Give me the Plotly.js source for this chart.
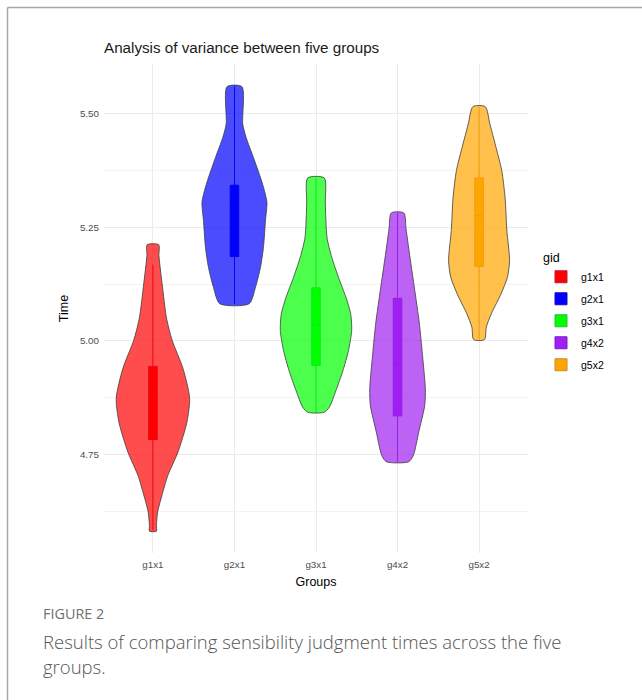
<!DOCTYPE html>
<html>
<head>
<meta charset="utf-8">
<script src="https://cdn.plot.ly/plotly-3.0.1.min.js"></script>
<style>
html,body{margin:0;padding:0;background:#fff;}
#chart{width:642px;height:700px;}
</style>
</head>
<body>
<div id="chart"></div>
<script>
// ---- data ----
const groups = ['g1x1', 'g2x1', 'g3x1', 'g4x2', 'g5x2'];

// violin density profiles (value levels top -> bottom, relative density)
const g1x1_levels  = [5.212, 5.188, 5.126, 5.049, 5.001, 4.940, 4.874, 4.821, 4.755, 4.704, 4.654, 4.623, 4.594, 4.581];
const g1x1_density = [5.8, 6.0, 9.2, 13.7, 19.3, 30.0, 36.7, 34.0, 25.0, 15.0, 8.3, 4.7, 3.5, 3.5];

const g2x1_levels  = [5.560, 5.478, 5.448, 5.404, 5.360, 5.331, 5.305, 5.265, 5.206, 5.162, 5.118, 5.082];
const g2x1_density = [7.5, 8.3, 11.7, 19.0, 26.0, 30.0, 32.5, 31.0, 29.0, 26.0, 21.0, 14.7];

const g3x1_levels  = [5.359, 5.302, 5.228, 5.184, 5.140, 5.096, 5.060, 5.023, 4.979, 4.935, 4.891, 4.854, 4.843];
const g3x1_density = [8.3, 9.3, 11.0, 15.8, 22.5, 30.0, 34.7, 35.7, 32.5, 27.0, 20.0, 13.3, 8.3];

const g4x2_levels  = [5.282, 5.247, 5.188, 5.115, 5.041, 4.968, 4.895, 4.858, 4.800, 4.748, 4.734];
const g4x2_density = [6.3, 8.5, 12.2, 17.0, 21.7, 25.0, 27.8, 27.2, 21.3, 15.8, 11.2];

const g5x2_levels  = [5.516, 5.478, 5.426, 5.375, 5.316, 5.243, 5.177, 5.140, 5.104, 5.060, 5.030, 5.003];
const g5x2_density = [6.2, 10.8, 17.0, 22.7, 26.0, 27.8, 30.5, 28.3, 22.0, 12.3, 7.2, 5.5];

// box statistics
const q1           = [4.783, 5.186, 4.946, 4.835, 5.164];
const median       = [4.871, 5.294, 5.036, 4.948, 5.276];
const q3           = [4.944, 5.343, 5.117, 5.094, 5.359];
const lowerWhisker = [4.583, 5.082, 4.843, 4.734, 5.003];
const upperWhisker = [5.168, 5.560, 5.359, 5.282, 5.516];

const yTicks = [4.75, 5.00, 5.25, 5.50];

// ---- styling ----
const fills  = ['rgba(255,0,0,0.7)', 'rgba(0,0,255,0.7)', 'rgba(0,255,0,0.7)', 'rgba(160,32,240,0.7)', 'rgba(255,165,0,0.7)'];
const solids = ['#FF0000', '#0000FF', '#00FF00', '#A020F0', '#FFA500'];
const darks  = ['#C8143C', '#1010B8', '#2EB84A', '#7C1CC8', '#C88A2A'];

const profiles = [
  [g1x1_levels, g1x1_density],
  [g2x1_levels, g2x1_density],
  [g3x1_levels, g3x1_density],
  [g4x2_levels, g4x2_density],
  [g5x2_levels, g5x2_density]
];
let maxD = 0;
profiles.forEach(p => p[1].forEach(d => { if (d > maxD) maxD = d; }));
const halfMax = 0.45;

const traces = [];
groups.forEach((g, i) => {
  const c = i + 1;
  const lv = profiles[i][0], dn = profiles[i][1];
  const xs = [], ys = [];
  for (let k = 0; k < lv.length; k++) { xs.push(c + dn[k] / maxD * halfMax); ys.push(lv[k]); }
  for (let k = lv.length - 1; k >= 0; k--) { xs.push(c - dn[k] / maxD * halfMax); ys.push(lv[k]); }
  xs.push(xs[0]); ys.push(ys[0]);
  traces.push({
    type: 'scatter', mode: 'lines', x: xs, y: ys, fill: 'toself',
    fillcolor: fills[i], line: {color: '#3C3C3C', width: 0.8, shape: 'spline', smoothing: 0.7},
    legendgroup: g, showlegend: false, hoverinfo: 'skip', name: g
  });
});
groups.forEach((g, i) => {
  traces.push({
    type: 'box', name: g, legendgroup: g, showlegend: true,
    x: [i + 1], q1: [q1[i]], median: [median[i]], q3: [q3[i]],
    lowerfence: [lowerWhisker[i]], upperfence: [upperWhisker[i]],
    width: 0.105, whiskerwidth: 0, boxpoints: false,
    fillcolor: solids[i], line: {color: darks[i], width: 1}
  });
});

const W = 642, H = 700;
const mL = 104, mR = 114, mT = 64, mB = 147;
const pw = W - mL - mR, ph = H - mT - mB;
const px2x = p => (p - mL) / pw;
const py2y = p => (H - mB - p) / ph;

const layout = {
  width: W, height: H,
  margin: {l: mL, r: mR, t: mT, b: mB, pad: 0},
  paper_bgcolor: '#fff', plot_bgcolor: '#fff',
  font: {family: 'Liberation Sans, Arial, sans-serif', color: '#000'},
  showlegend: true,
  boxmode: 'overlay',
  title: {text: 'Analysis of variance between five groups', x: 0, xanchor: 'left', xref: 'paper',
          y: 1 - 48 / H, yref: 'container', yanchor: 'middle', font: {size: 15.2, color: '#1a1a1a'}},
  xaxis: {
    range: [0.4, 5.6], tickvals: [1, 2, 3, 4, 5], ticktext: groups,
    showgrid: true, gridcolor: '#EBEBEB', gridwidth: 1, zeroline: false, showline: false, ticks: '',
    ticklabelstandoff: 4,
    tickfont: {size: 9.8, color: '#4D4D4D'},
    title: {text: 'Groups', font: {size: 12.5, color: '#000'}, standoff: 8}
  },
  yaxis: {
    range: [4.533, 5.61], tickvals: yTicks, tickformat: '.2f',
    showgrid: true, gridcolor: '#EBEBEB', gridwidth: 1, zeroline: false, showline: false, ticks: '',
    ticklabelstandoff: 4,
    minor: {tickvals: [4.625, 4.875, 5.125, 5.375], showgrid: true, gridcolor: '#F3F3F3', gridwidth: 1},
    tickfont: {size: 9.8, color: '#4D4D4D'},
    title: {text: 'Time', font: {size: 12.5, color: '#000'}, standoff: 8}
  },
  legend: {
    x: px2x(541), y: py2y(246), xanchor: 'left', yanchor: 'top',
    title: {text: 'gid', font: {size: 12.5, color: '#000'}},
    font: {size: 10.5, color: '#000'}, tracegroupgap: 3, itemwidth: 30,
    bgcolor: 'rgba(0,0,0,0)'
  },
  shapes: [
    {type: 'line', xref: 'paper', yref: 'paper', x0: px2x(7.5), x1: px2x(7.5), y0: py2y(7.5), y1: py2y(705),
     line: {color: '#A8A8A8', width: 1.5}},
    {type: 'line', xref: 'paper', yref: 'paper', x0: px2x(7.5), x1: px2x(650), y0: py2y(7.5), y1: py2y(7.5),
     line: {color: '#A8A8A8', width: 1.5}}
  ],
  annotations: [
    {text: 'FIGURE 2', xref: 'paper', yref: 'paper', x: px2x(41), y: py2y(613), xanchor: 'left', yanchor: 'middle',
     showarrow: false, font: {family: 'Open Sans, Lato, sans-serif', size: 14.4, color: '#707070'}},
    {text: 'Results of comparing sensibility judgment times across the five', xref: 'paper', yref: 'paper',
     x: px2x(41), y: py2y(641), xanchor: 'left', yanchor: 'middle', showarrow: false,
     font: {family: 'Open Sans, Lato, sans-serif', size: 18.5, weight: 300, color: '#555555'}},
    {text: 'groups.', xref: 'paper', yref: 'paper',
     x: px2x(41), y: py2y(666), xanchor: 'left', yanchor: 'middle', showarrow: false,
     font: {family: 'Open Sans, Lato, sans-serif', size: 18.5, weight: 300, color: '#555555'}}
  ]
};

Plotly.newPlot('chart', traces, layout, {displayModeBar: false, staticPlot: true});
</script>
</body>
</html>
